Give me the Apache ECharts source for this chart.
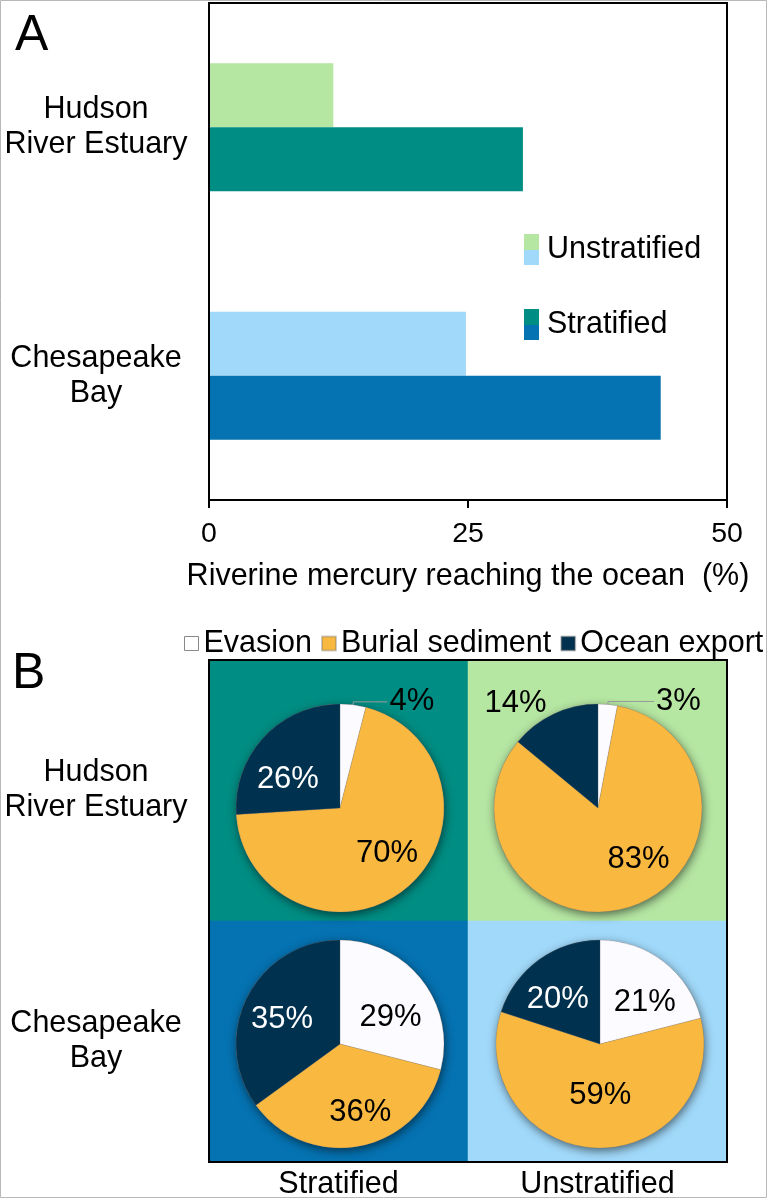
<!DOCTYPE html>
<html><head><meta charset="utf-8">
<script src="https://cdn.jsdelivr.net/npm/echarts@6/dist/echarts.min.js"></script>
<style>html,body{margin:0;padding:0;background:#fff}#c{width:768px;height:1200px}</style>
</head><body><div id="c"></div>
<script>
const FONT = '"Liberation Sans", Arial, Helvetica, sans-serif';
const FS = 30.5;

// ---- Panel A data ----
const barCategories = ['Hudson\nRiver Estuary', 'Chesapeake\nBay'];
const unstratifiedValues = [12, 24.8];
const stratifiedValues = [30.3, 43.6];
const xTickValues = [0, 25, 50];

// ---- Panel B data ----
const pieNames = ['Evasion', 'Burial sediment', 'Ocean export'];
const hudsonStratified = [4, 70, 26];
const hudsonUnstratified = [3, 83, 14];
const chesapeakeStratified = [29, 36, 35];
const chesapeakeUnstratified = [21, 59, 20];
const gridColumns = ['Stratified', 'Unstratified'];
const gridRows = ['Hudson\nRiver Estuary', 'Chesapeake\nBay'];

// ---- colours ----
const C = {
  hudsonUn: '#B5E6A2', hudsonSt: '#008D83',
  chesUn: '#A1D9FA', chesSt: '#0572B1',
  evasion: '#FCFBFF', burial: '#F9B840', ocean: '#00314F'
};
const pieColors = [C.evasion, C.burial, C.ocean];
const cellColors = [[C.hudsonSt, C.hudsonUn], [C.chesSt, C.chesUn]];

function twoTone(a, b) {
  return new echarts.graphic.LinearGradient(0, 0, 0, 1, [
    {offset: 0, color: a}, {offset: 0.5, color: a},
    {offset: 0.5, color: b}, {offset: 1, color: b}
  ]);
}

const chart = echarts.init(document.getElementById('c'), null, {renderer: 'canvas'});

function pieSeries(values, center, labelCfg, nudges) {
  return {
    type: 'pie',
    center: center,
    radius: 104,
    startAngle: 90,
    clockwise: true,
    avoidLabelOverlap: false,
    z: 3,
    itemStyle: {borderColor: 'rgba(110,110,110,0.35)', borderWidth: 0.6},
    label: {fontFamily: FONT, fontSize: 31, formatter: '{c}%'},
    emphasis: {disabled: true},
    labelLayout: function (p) {
      const n = nudges[p.dataIndex];
      return n ? {dx: n[0], dy: n[1]} : {};
    },
    data: values.map((v, i) => ({
      name: pieNames[i],
      value: v,
      itemStyle: {color: pieColors[i]},
      label: labelCfg[i].label,
      labelLine: labelCfg[i].labelLine
    }))
  };
}
function shadowSeries(values, center) {
  return {
    type: 'pie', center: center, radius: 104, silent: true, z: 2,
    label: {show: false}, labelLine: {show: false},
    itemStyle: {color: '#777', shadowBlur: 10, shadowColor: 'rgba(0,0,0,0.55)', shadowOffsetX: 1, shadowOffsetY: 3},
    data: [{value: values.reduce((a, b) => a + b, 0), name: '_shadow'}]
  };
}
const inside = (color) => ({label: {position: 'inside', color: color}, labelLine: {show: false}});
const outsideLine = (len2) => ({label: {position: 'outside', color: '#000', distanceToLabelLine: 2},
  labelLine: {show: true, length: 3, length2: len2, lineStyle: {color: '#9a9a9a', width: 1}}});
const outsideNoLine = {label: {position: 'outside', color: '#000', distanceToLabelLine: 2},
  labelLine: {show: false, length: 12, length2: 0}};

const centers = [[340, 808], [598, 808], [340, 1044], [600, 1044]];

function rowCells(ri) {
  return gridColumns.map((c, ci) => [ci, 0, ri * 2 + ci]);
}

const option = {
  backgroundColor: '#fff',
  animation: false,
  textStyle: {fontFamily: FONT},
  title: [
    {text: 'A', left: 10, top: 6, textStyle: {fontFamily: FONT, fontSize: 50, fontWeight: 'normal', color: '#000'}},
    {text: 'B', left: 7, top: 644, textStyle: {fontFamily: FONT, fontSize: 50, fontWeight: 'normal', color: '#000'}}
  ],
  legend: [
    {
      orient: 'vertical', left: 519, top: 229, itemWidth: 15, itemHeight: 31, itemGap: 44,
      selectedMode: false, icon: 'rect',
      textStyle: {fontFamily: FONT, fontSize: FS, color: '#000', padding: [0, 0, 0, 3]},
      data: [
        {name: 'Unstratified', itemStyle: {color: twoTone(C.hudsonUn, C.chesUn)}},
        {name: 'Stratified', itemStyle: {color: twoTone(C.hudsonSt, C.chesSt)}}
      ]
    },
    {
      orient: 'horizontal', left: 179, top: 623, width: 800, itemWidth: 14, itemHeight: 14, itemGap: 9,
      selectedMode: false, icon: 'rect',
      textStyle: {fontFamily: FONT, fontSize: FS, color: '#000'},
      data: [
        {name: 'Evasion', itemStyle: {color: '#fff', borderColor: '#888', borderWidth: 1}},
        {name: 'Burial sediment', itemStyle: {color: C.burial}},
        {name: 'Ocean export', itemStyle: {color: C.ocean}}
      ]
    }
  ],
  grid: [
    // panel A
    {left: 209, right: 41, top: 3, bottom: 700, show: true, borderColor: '#000', borderWidth: 2, z: 6, backgroundColor: 'transparent'},
    // panel B frame
    {left: 209, right: 41, top: 660, bottom: 38, show: true, borderColor: '#000', borderWidth: 2, z: 6, backgroundColor: 'transparent'},
    // panel B rows
    {left: 209, right: 41, top: 660, bottom: 279},
    {left: 209, right: 41, top: 921, bottom: 38}
  ],
  xAxis: [
    {
      gridIndex: 0, type: 'value', min: xTickValues[0], max: xTickValues[xTickValues.length - 1], interval: 25,
      splitLine: {show: false},
      axisLine: {show: true, lineStyle: {color: '#000', width: 2}},
      axisTick: {show: true, length: 8, lineStyle: {color: '#000', width: 2}},
      axisLabel: {fontFamily: FONT, fontSize: 28.5, color: '#000', margin: 20},
      name: 'Riverine mercury reaching the ocean  (%)', nameLocation: 'middle', nameGap: 61,
      nameTextStyle: {fontFamily: FONT, fontSize: FS, color: '#000'}
    },
    {gridIndex: 1, type: 'value', show: false},
    {
      gridIndex: 2, type: 'category', data: gridColumns, show: false
    },
    {
      gridIndex: 3, type: 'category', data: gridColumns,
      axisLine: {show: false}, axisTick: {show: false}, splitLine: {show: false},
      axisLabel: {fontFamily: FONT, fontSize: FS, color: '#000', margin: 8}
    }
  ],
  yAxis: [
    {
      gridIndex: 0, type: 'category', data: barCategories, inverse: true,
      axisLine: {show: true, lineStyle: {color: '#000', width: 2}}, axisTick: {show: false},
      axisLabel: {fontFamily: FONT, fontSize: FS, color: '#000', align: 'center', margin: 113, lineHeight: 35}
    },
    {gridIndex: 1, type: 'value', show: false},
    {
      gridIndex: 2, type: 'category', data: [gridRows[0]],
      axisLine: {show: false}, axisTick: {show: false}, splitLine: {show: false},
      axisLabel: {fontFamily: FONT, fontSize: FS, color: '#000', align: 'center', margin: 113, lineHeight: 35}
    },
    {
      gridIndex: 3, type: 'category', data: [gridRows[1]],
      axisLine: {show: false}, axisTick: {show: false}, splitLine: {show: false},
      axisLabel: {fontFamily: FONT, fontSize: FS, color: '#000', align: 'center', margin: 113, lineHeight: 35}
    }
  ],
  visualMap: {
    type: 'piecewise', show: false, dimension: 2, seriesIndex: [2, 3],
    pieces: [
      {value: 0, color: cellColors[0][0]}, {value: 1, color: cellColors[0][1]},
      {value: 2, color: cellColors[1][0]}, {value: 3, color: cellColors[1][1]}
    ]
  },
  series: [
    {
      name: 'Unstratified', type: 'bar', xAxisIndex: 0, yAxisIndex: 0, barWidth: 64, barGap: '0%',
      data: unstratifiedValues.map((v, i) => ({value: v, itemStyle: {color: i === 0 ? C.hudsonUn : C.chesUn}}))
    },
    {
      name: 'Stratified', type: 'bar', xAxisIndex: 0, yAxisIndex: 0, barWidth: 64, barGap: '0%',
      data: stratifiedValues.map((v, i) => ({value: v, itemStyle: {color: i === 0 ? C.hudsonSt : C.chesSt}}))
    },
    {type: 'heatmap', xAxisIndex: 2, yAxisIndex: 2, data: rowCells(0), silent: true, z: 1, itemStyle: {borderWidth: 0}},
    {type: 'heatmap', xAxisIndex: 3, yAxisIndex: 3, data: rowCells(1), silent: true, z: 1, itemStyle: {borderWidth: 0}},
    shadowSeries(hudsonStratified, centers[0]),
    shadowSeries(hudsonUnstratified, centers[1]),
    shadowSeries(chesapeakeStratified, centers[2]),
    shadowSeries(chesapeakeUnstratified, centers[3]),
    pieSeries(hudsonStratified, centers[0], [outsideLine(34), inside('#000'), inside('#fff')],
      [null, [12, 3], [-12, 9]]),
    pieSeries(hudsonUnstratified, centers[1], [outsideLine(46), inside('#000'), outsideNoLine],
      [null, [22, 0], null]),
    pieSeries(chesapeakeStratified, centers[2], [inside('#000'), inside('#000'), inside('#fff')],
      [[7, 7], [10, 14], [-9, 0]]),
    pieSeries(chesapeakeUnstratified, centers[3], [inside('#000'), inside('#000'), inside('#fff')],
      [[11, 2], [2, -4], [-10, 0]])
  ],
  graphic: [
    {type: 'rect', silent: true, z: 100, shape: {x: 0.5, y: 0.5, width: 766, height: 1197},
     style: {fill: 'none', stroke: '#b8b8b8', lineWidth: 1}}
  ]
};
chart.setOption(option);
</script></body></html>
